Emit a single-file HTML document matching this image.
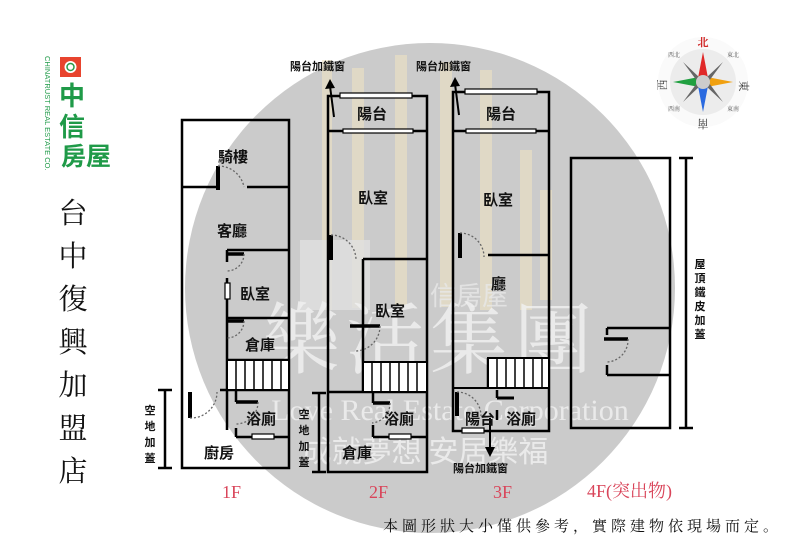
<!DOCTYPE html>
<html><head><meta charset="utf-8"><style>
html,body{margin:0;padding:0;background:#fff;}
svg{display:block}
.lb{font-family:"Liberation Sans","Noto Sans CJK TC",sans-serif;font-weight:bold;font-size:15px;fill:#111}
.sm{font-family:"Liberation Sans","Noto Sans CJK TC",sans-serif;font-weight:bold;font-size:11px;fill:#111}
.fl{font-family:"Liberation Serif","Noto Serif CJK SC",serif;font-size:18px;fill:#d9455a}
</style></head><body>
<svg width="800" height="553" viewBox="0 0 800 553" xmlns="http://www.w3.org/2000/svg">
<rect width="800" height="553" fill="#fff"/>
<circle cx="430" cy="288" r="245" fill="#cbcbcb"/>
<g fill="#efe3c4" opacity="0.6">
<rect x="322" y="60" width="10" height="250"/><rect x="352" y="68" width="12" height="240"/><rect x="395" y="55" width="12" height="250"/><rect x="440" y="62" width="12" height="245"/><rect x="480" y="70" width="12" height="240"/><rect x="520" y="150" width="12" height="160"/><rect x="540" y="190" width="12" height="110"/>
</g>
<rect x="300" y="240" width="70" height="70" fill="#e0e0e0" opacity="0.8"/>
<text x="430" y="305" font-family="Noto Sans CJK TC,sans-serif" font-size="26" fill="#e8e8e8" opacity="0.8">信房屋</text>
<text x="430" y="367" text-anchor="middle" font-family="Noto Serif CJK SC,serif" font-size="78" fill="#f2f2f2" opacity="0.8" letter-spacing="6">樂活集團</text>
<text x="450" y="420" text-anchor="middle" font-family="Liberation Serif,serif" font-size="30" fill="#f2f2f2" opacity="0.8">Love Real Estate Corporation</text>
<text x="425" y="462" text-anchor="middle" font-family="Noto Sans CJK TC,sans-serif" font-size="30" fill="#f2f2f2" opacity="0.8">成就夢想 安居樂福</text>

<rect x="60" y="57" width="21" height="20" fill="#e8442e"/>
<circle cx="70.5" cy="67" r="6" fill="#fff"/><circle cx="70.5" cy="67" r="3.5" fill="none" stroke="#2a9a4a" stroke-width="1.5"/>
<text x="72" y="105" text-anchor="middle" font-family="Noto Sans CJK TC,sans-serif" font-size="26" fill="#1f9a48" font-weight="bold">中</text>
<text x="72" y="136" text-anchor="middle" font-family="Noto Sans CJK TC,sans-serif" font-size="26" fill="#1f9a48" font-weight="bold">信</text>
<text x="61" y="165" font-family="Noto Sans CJK TC,sans-serif" font-size="25" fill="#1f9a48" font-weight="bold">房屋</text>
<text transform="translate(45,56) rotate(90)" font-family="Liberation Sans,sans-serif" font-size="7.5" fill="#1f9a48">CHINATRUST REAL ESTATE CO.</text>

<g font-family="Liberation Serif,Noto Serif CJK SC,serif" font-size="29" fill="#111" text-anchor="middle">
<text x="73" y="223">台</text><text x="73" y="266">中</text><text x="73" y="309">復</text><text x="73" y="352">興</text><text x="73" y="395">加</text><text x="73" y="438">盟</text><text x="73" y="481">店</text>
</g>

<circle cx="703" cy="82" r="45" fill="#fafafa"/>
<circle cx="703" cy="82" r="33" fill="#ececec"/>
<polygon points="703,52 698,78 708,78" fill="#e02828"/>
<polygon points="703,112 698,86 708,86" fill="#2a6ae0"/>
<polygon points="673,82 699,77 699,87" fill="#20a040"/>
<polygon points="733,82 707,77 707,87" fill="#f0a010"/>
<polygon points="683,62 700,78 697,81" fill="#666"/><polygon points="723,62 706,78 709,81" fill="#666"/>
<polygon points="683,102 700,86 697,83" fill="#666"/><polygon points="723,102 706,86 709,83" fill="#666"/>
<circle cx="703" cy="82" r="7" fill="#ccc"/>
<g font-family="Noto Serif CJK SC,serif" font-size="11" text-anchor="middle">
<text x="703" y="46" fill="#d02828" font-weight="bold">北</text>
<text x="703" y="128" fill="#333" transform="rotate(180 703 124)">南</text>
<text x="748" y="86" fill="#333" transform="rotate(90 744 82)">東</text>
<text x="659" y="86" fill="#333" transform="rotate(-90 662 82)">西</text>
<text x="674" y="57" fill="#555" font-size="6">西北</text><text x="733" y="57" fill="#555" font-size="6">東北</text>
<text x="674" y="111" fill="#555" font-size="6">西南</text><text x="733" y="111" fill="#555" font-size="6">東南</text>
</g>

<g stroke="#000" fill="none" stroke-width="2.5">
<rect x="182" y="120" width="107" height="348"/>
<line x1="182" y1="187" x2="218" y2="187"/><line x1="247" y1="187" x2="289" y2="187"/>
<line x1="218" y1="166" x2="218" y2="190" stroke-width="4"/>
<line x1="227" y1="250" x2="289" y2="250"/>
<line x1="227" y1="250" x2="227" y2="262"/><line x1="227" y1="278" x2="227" y2="430"/>
<line x1="227" y1="318" x2="289" y2="318"/>
<line x1="227" y1="360" x2="289" y2="360"/>
<line x1="220" y1="390" x2="289" y2="390"/>
<line x1="236" y1="390" x2="236" y2="402"/><line x1="236" y1="402" x2="258" y2="402" stroke-width="3.5"/>
<line x1="236" y1="428" x2="236" y2="437"/><line x1="236" y1="437" x2="289" y2="437"/>
<line x1="190" y1="392" x2="190" y2="418" stroke-width="4"/>
<line x1="227" y1="254" x2="244" y2="254" stroke-width="3.5"/>
<line x1="227" y1="321" x2="244" y2="321" stroke-width="3.5"/>
<line x1="165" y1="390" x2="165" y2="468"/><line x1="158" y1="390" x2="172" y2="390"/><line x1="158" y1="468" x2="172" y2="468"/>
<rect x="328" y="96" width="99" height="376"/>
<line x1="328" y1="131" x2="427" y2="131"/>
<line x1="363" y1="259" x2="427" y2="259"/>
<line x1="363" y1="259" x2="363" y2="392"/>
<line x1="350" y1="326" x2="380" y2="326" stroke-width="3.5"/>
<line x1="328" y1="392" x2="427" y2="392"/>
<line x1="373" y1="392" x2="373" y2="403"/><line x1="373" y1="403" x2="390" y2="403" stroke-width="3.5"/>
<line x1="373" y1="425" x2="373" y2="437"/><line x1="373" y1="437" x2="427" y2="437"/>
<line x1="331" y1="235" x2="331" y2="260" stroke-width="4"/>
<line x1="319" y1="393" x2="319" y2="472"/><line x1="312" y1="393" x2="326" y2="393"/><line x1="312" y1="472" x2="326" y2="472"/>
<rect x="453" y="92" width="96" height="339"/>
<line x1="453" y1="131" x2="549" y2="131"/>
<line x1="488" y1="255" x2="549" y2="255"/>
<line x1="460" y1="233" x2="460" y2="258" stroke-width="4"/>
<line x1="488" y1="358" x2="488" y2="388"/>
<line x1="453" y1="388" x2="549" y2="388" stroke-width="2"/>
<line x1="497" y1="390" x2="497" y2="398"/><line x1="497" y1="398" x2="514" y2="398" stroke-width="3"/>
<line x1="497" y1="410" x2="497" y2="420"/>
<line x1="457" y1="392" x2="457" y2="416" stroke-width="4"/>
<rect x="571" y="158" width="99" height="270"/>
<line x1="607" y1="328" x2="670" y2="328"/><line x1="607" y1="375" x2="670" y2="375"/>
<line x1="607" y1="328" x2="607" y2="335"/><line x1="607" y1="365" x2="607" y2="375"/>
<line x1="604" y1="339" x2="628" y2="339" stroke-width="3.5"/>
<line x1="686" y1="158" x2="686" y2="428"/><line x1="679" y1="158" x2="693" y2="158"/><line x1="679" y1="428" x2="693" y2="428"/>
<line x1="334" y1="117" x2="330" y2="86" stroke-width="2"/>
<line x1="459" y1="115" x2="455" y2="84" stroke-width="2"/>
<line x1="490" y1="418" x2="490" y2="450" stroke-width="2"/>
</g>
<g fill="#000">
<polygon points="330,79 325,89 335,88"/><polygon points="455,77 450,87 460,86"/><polygon points="490,457 485,447 495,447"/>
</g>
<g stroke="#000" stroke-width="2" fill="#fff">
<rect x="227" y="360" width="62" height="30"/><rect x="363" y="362" width="64" height="30"/><rect x="488" y="358" width="61" height="30"/>
</g>
<g stroke="#000" stroke-width="1.5">
<path d="M236 360v30M245 360v30M254 360v30M263 360v30M272 360v30M281 360v30"/>
<path d="M372 362v30M381 362v30M390 362v30M399 362v30M408 362v30M417 362v30"/>
<path d="M497 358v30M506 358v30M515 358v30M524 358v30M533 358v30M542 358v30"/>
</g>
<g stroke="#000" stroke-width="1.2" fill="#fff">
<rect x="340" y="93" width="72" height="5"/><rect x="465" y="89" width="72" height="5"/>
<rect x="343" y="129" width="70" height="4"/><rect x="466" y="129" width="70" height="4"/>
<rect x="252" y="434" width="22" height="5"/><rect x="389" y="434" width="22" height="5"/><rect x="462" y="428" width="22" height="5"/>
<rect x="225" y="283" width="5" height="16"/>
</g>
<g stroke="#666" stroke-width="1.3" fill="none" stroke-dasharray="2,2">
<path d="M218 166 A26 26 0 0 1 244 187"/>
<path d="M244 254 A17 17 0 0 1 227 271"/>
<path d="M244 321 A17 17 0 0 1 227 338"/>
<path d="M190 418 A26 26 0 0 0 217 392"/>
<path d="M258 402 A22 22 0 0 1 236 424"/>
<path d="M331 235 A25 25 0 0 1 356 260"/>
<path d="M380 326 A25 25 0 0 1 355 351"/>
<path d="M390 403 A20 20 0 0 1 372 423"/>
<path d="M460 233 A24 24 0 0 1 484 257"/>
<path d="M457 392 A24 24 0 0 1 481 416"/>
<path d="M628 339 A22 22 0 0 1 607 362"/>
</g>
<text class="lb" x="218" y="162">騎樓</text>
<text class="lb" x="217" y="236">客廳</text>
<text class="lb" x="240" y="299">臥室</text>
<text class="lb" x="245" y="350">倉庫</text>
<text class="lb" x="246" y="424">浴廁</text>
<text class="lb" x="204" y="458">廚房</text>
<text class="lb" x="357" y="119">陽台</text>
<text class="lb" x="358" y="203">臥室</text>
<text class="lb" x="375" y="316">臥室</text>
<text class="lb" x="384" y="424">浴廁</text>
<text class="lb" x="342" y="458">倉庫</text>
<text class="lb" x="486" y="119">陽台</text>
<text class="lb" x="483" y="205">臥室</text>
<text class="lb" x="491" y="289">廳</text>
<text class="lb" x="465" y="424">陽台</text>
<text class="lb" x="506" y="424">浴廁</text>
<text class="sm" x="290" y="70">陽台加鐵窗</text>
<text class="sm" x="416" y="70">陽台加鐵窗</text>
<text class="sm" x="453" y="472">陽台加鐵窗</text>
<text class="sm" x="150" y="414" text-anchor="middle">空</text><text class="sm" x="150" y="430" text-anchor="middle">地</text><text class="sm" x="150" y="446" text-anchor="middle">加</text><text class="sm" x="150" y="462" text-anchor="middle">蓋</text>
<text class="sm" x="304" y="418" text-anchor="middle">空</text><text class="sm" x="304" y="434" text-anchor="middle">地</text><text class="sm" x="304" y="450" text-anchor="middle">加</text><text class="sm" x="304" y="466" text-anchor="middle">蓋</text>
<text class="sm" x="700" y="268" text-anchor="middle">屋</text><text class="sm" x="700" y="282" text-anchor="middle">頂</text><text class="sm" x="700" y="296" text-anchor="middle">鐵</text><text class="sm" x="700" y="310" text-anchor="middle">皮</text><text class="sm" x="700" y="324" text-anchor="middle">加</text><text class="sm" x="700" y="338" text-anchor="middle">蓋</text>
<text class="fl" x="222" y="498">1F</text>
<text class="fl" x="369" y="498">2F</text>
<text class="fl" x="493" y="498">3F</text>
<text class="fl" x="587" y="497">4F(突出物)</text>
<text x="383" y="531" font-family="Liberation Serif,Noto Serif CJK SC,serif" font-size="15" letter-spacing="4" fill="#111">本圖形狀大小僅供參考，實際建物依現場而定。</text>
</svg>
</body></html>
